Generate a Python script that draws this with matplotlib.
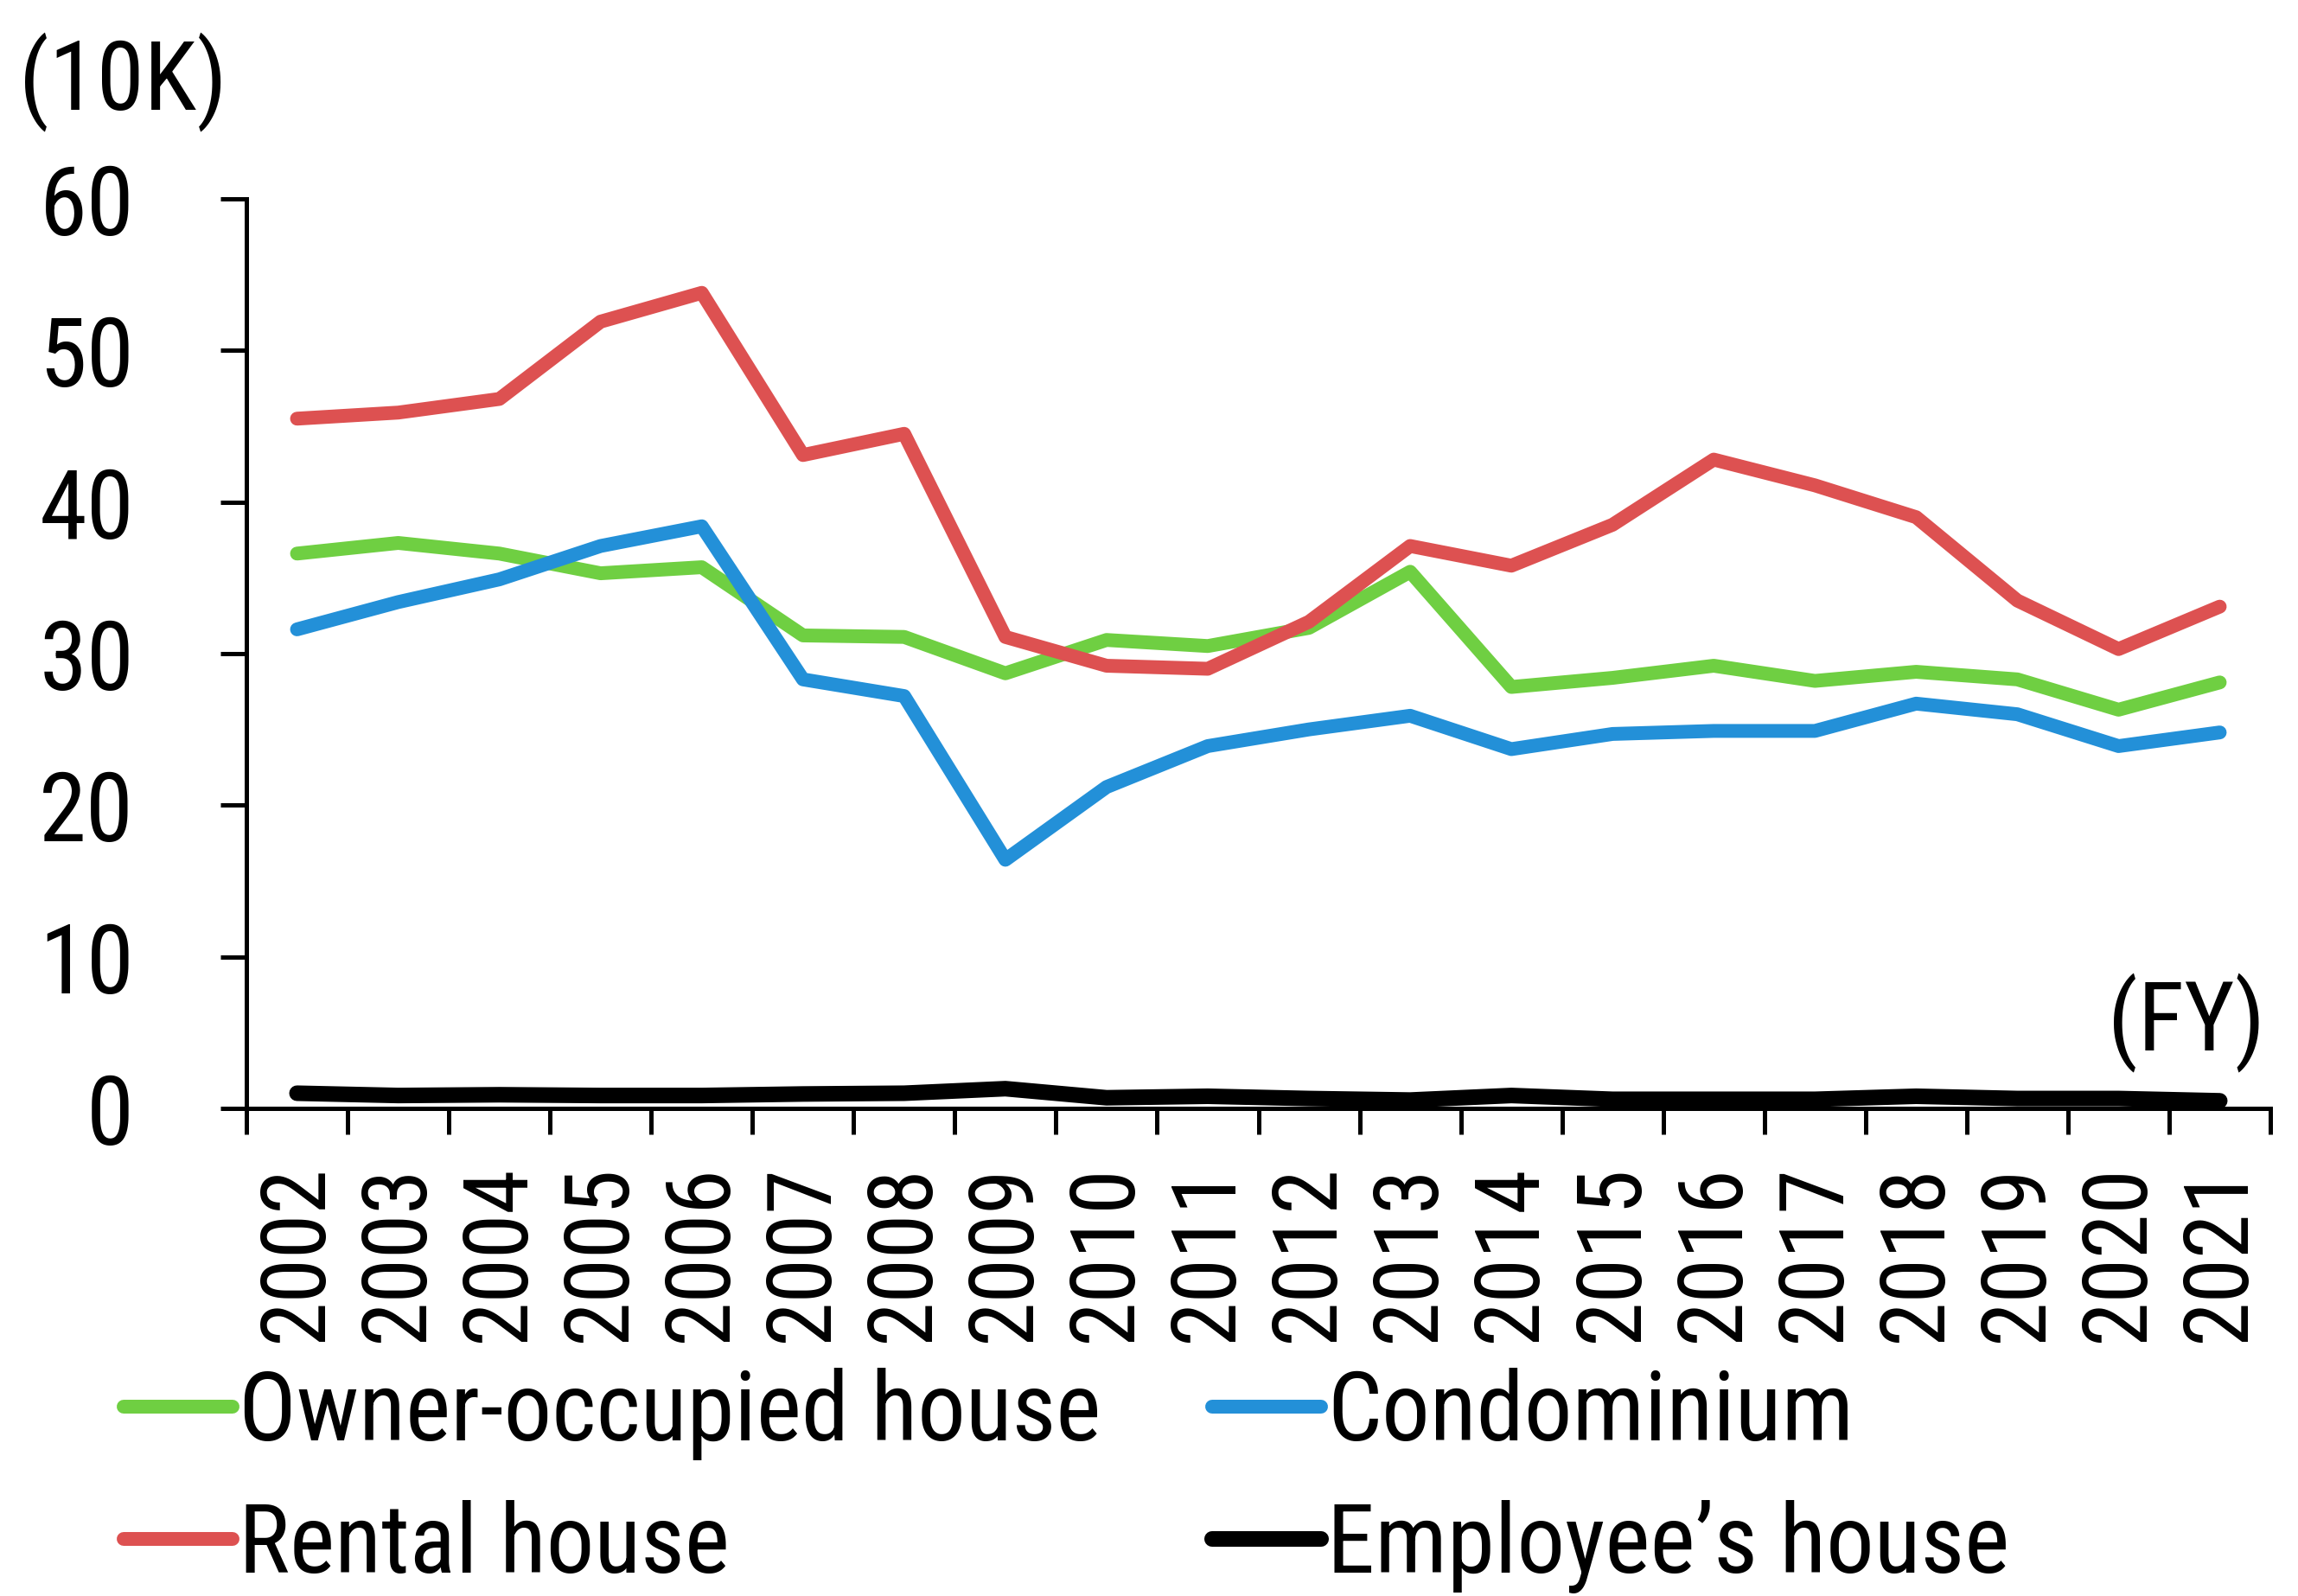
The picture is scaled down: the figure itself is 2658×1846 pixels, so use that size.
import matplotlib.pyplot as plt
from matplotlib.lines import Line2D

plt.rcParams['font.family'] = ['Liberation Sans Narrow', 'Arial Narrow', 'Noto Sans Condensed',
                               'DejaVu Sans Condensed', 'Roboto Condensed', 'Noto Sans',
                               'Liberation Sans']
plt.rcParams['font.stretch'] = 'condensed'

years = [str(y) for y in range(2002, 2022)]

owner = [36.6, 37.3, 36.6, 35.3, 35.7, 31.2, 31.1, 28.7, 30.9, 30.5,
         31.7, 35.4, 27.8, 28.4, 29.2, 28.2, 28.8, 28.3, 26.3, 28.1]
condo = [31.6, 33.4, 34.9, 37.1, 38.4, 28.3, 27.2, 16.4, 21.2, 23.9,
         25.0, 25.9, 23.7, 24.7, 24.9, 24.9, 26.7, 26.0, 23.9, 24.8]
rental = [45.5, 45.9, 46.8, 51.9, 53.8, 43.1, 44.5, 31.1, 29.2, 29.0,
          32.1, 37.1, 35.8, 38.5, 42.8, 41.1, 39.0, 33.5, 30.3, 33.1]
employee = [1.0, 0.85, 0.9, 0.85, 0.85, 0.95, 1.0, 1.3, 0.7, 0.8,
            0.65, 0.55, 0.85, 0.6, 0.6, 0.6, 0.8, 0.65, 0.65, 0.5]

labels = ["Owner-occupied house", "Condominium", "Rental house", "Employee\u2019s house"]
colors = ["#6fcf42", "#2390d8", "#dd5151", "#000000"]
widths = [11.5, 11.5, 11.5, 13]

W, H = 2658, 1846
fig = plt.figure(figsize=(W / 100, H / 100), dpi=100)
ax = fig.add_axes([285 / W, 1 - 1282 / H, (2626 - 285) / W, (1282 - 230) / H])

x = range(len(years))
series = [owner, condo, rental, employee]
for vals, c, lw in zip(series, colors, widths):
    ax.plot(x, vals, color=c, lw=lw, solid_capstyle='round', solid_joinstyle='round')

ax.set_xlim(-0.5, len(years) - 0.5)
ax.set_ylim(0, 60)
ax.set_yticks(range(0, 61, 10))
ax.set_xticks(list(x))
ax.set_xticklabels(years, rotation=90)
ax.set_xticks([i - 0.5 for i in range(len(years) + 1)], minor=True)

for s in ['top', 'right']:
    ax.spines[s].set_visible(False)
for s in ['left', 'bottom']:
    ax.spines[s].set_linewidth(3.6)

ax.tick_params(axis='y', which='major', length=21.6, width=3.6, pad=72, labelsize=80)
ax.tick_params(axis='x', which='major', length=0, pad=47, labelsize=75)
ax.tick_params(axis='x', which='minor', length=21.6, width=3.6)

fig.text(22 / W, 1 - 127 / H, "(10K)", fontsize=80, va='baseline', ha='left')
fig.text(2620 / W, 1 - 1215 / H, "(FY)", fontsize=80, va='baseline', ha='right')

handles = [Line2D([], [], color=c, lw=lw, solid_capstyle='round')
           for c, lw in zip(colors, widths)]

leg_kw = dict(frameon=False, fontsize=80, borderpad=0, borderaxespad=0,
              handlelength=1.13, handletextpad=0.07, labelspacing=0.41)
fig.legend([handles[0], handles[2]], [labels[0], labels[2]], loc='upper left',
           bbox_to_anchor=(143 / W, 1 - 1582 / H), **leg_kw)
fig.legend([handles[1], handles[3]], [labels[1], labels[3]], loc='upper left',
           bbox_to_anchor=(1402 / W, 1 - 1582 / H), **leg_kw)

fig.savefig("out.png", dpi=100)
